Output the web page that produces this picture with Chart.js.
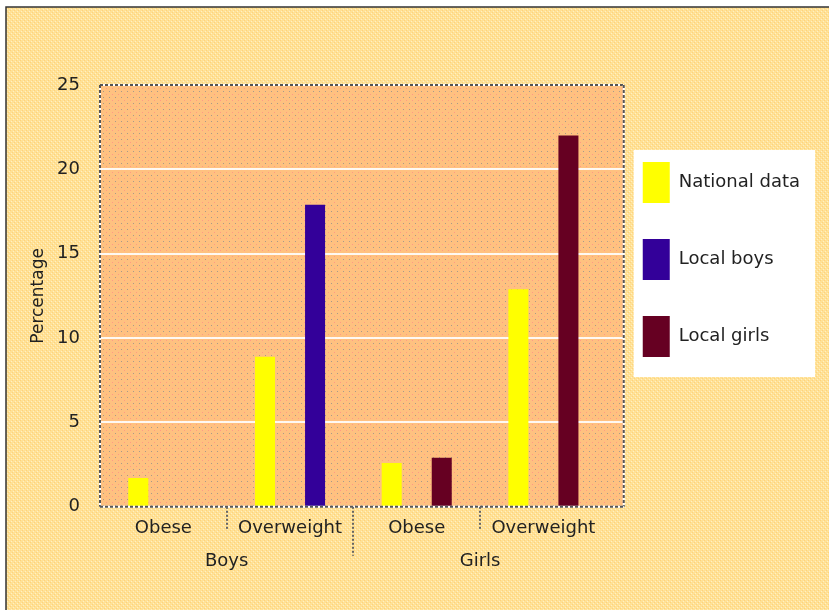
<!DOCTYPE html>
<html>
<head>
<meta charset="utf-8">
<script src="https://cdn.jsdelivr.net/npm/chart.js@4.4.0/dist/chart.umd.min.js"></script>
<style>
  html, body { margin: 0; padding: 0; background: #fff; }
  canvas { display: block; }
</style>
</head>
<body>
<canvas id="myChart" width="829" height="610"></canvas>
<script>
// データ
var categories = ['Obese', 'Overweight', 'Obese', 'Overweight'];
var groups = ['Boys', 'Girls'];
var seriesNames = ['National data', 'Local boys', 'Local girls'];
var nationalData = [1.7, 8.9, 2.6, 12.9];
var localBoys = [0, 17.9, null, null];
var localGirls = [null, null, 2.9, 22];
var yMin = 0, yMax = 25, yStep = 5;

var EXT = 17; // 枠が右に少しはみ出している分

// 背景の網点パターン
function makePattern(size, base, dots) {
  var c = document.createElement('canvas');
  c.width = size; c.height = size;
  var g = c.getContext('2d');
  g.fillStyle = base;
  g.fillRect(0, 0, size, size);
  dots.forEach(function(d) {
    g.fillStyle = d[2];
    g.fillRect(d[0], d[1], 1, 1);
  });
  return c;
}

var ctx = document.getElementById('myChart').getContext('2d');
var outerPat = ctx.createPattern(makePattern(4, '#ffe196', [[0, 0, '#ffd27a'], [2, 2, '#ffd27a'], [1, 3, '#fff0c4'], [3, 1, '#fff0c4']]), 'repeat');
var plotPat = ctx.createPattern(makePattern(6, '#ffc180', [[1, 1, '#a89a8a'], [4, 4, '#ff9a86']]), 'repeat');

function dashedLine(c, x1, y1, x2, y2) {
  c.save();
  c.lineWidth = 2;
  c.setLineDash([]);
  c.strokeStyle = '#ffffff';
  c.beginPath(); c.moveTo(x1, y1); c.lineTo(x2, y2); c.stroke();
  c.setLineDash([3, 2]);
  c.strokeStyle = '#555555';
  c.beginPath(); c.moveTo(x1, y1); c.lineTo(x2, y2); c.stroke();
  c.restore();
}

var backdrop = {
  id: 'backdrop',
  beforeDraw: function(chart) {
    var c = chart.ctx, a = chart.chartArea;
    c.save();
    c.fillStyle = '#ffffff';
    c.fillRect(0, 0, chart.width, chart.height);
    c.fillStyle = outerPat;
    c.fillRect(6, 7, chart.width - 6, chart.height - 7);
    c.strokeStyle = '#333333';
    c.lineWidth = 1.5;
    c.beginPath();
    c.moveTo(6, chart.height); c.lineTo(6, 7); c.lineTo(chart.width, 7);
    c.stroke();

    // プロット領域
    c.fillStyle = plotPat;
    c.fillRect(a.left, a.top, a.right - a.left + EXT, a.bottom - a.top);

    // 目盛線
    var y = chart.scales.y;
    c.strokeStyle = 'rgba(255,255,255,0.9)';
    c.lineWidth = 2;
    y.ticks.forEach(function(t) {
      if (t.value <= yMin || t.value >= yMax) return;
      var py = Math.round(y.getPixelForValue(t.value));
      c.beginPath(); c.moveTo(a.left, py); c.lineTo(a.right + EXT, py); c.stroke();
    });

    // 凡例の白い箱
    var hb = chart.legend.legendHitBoxes;
    if (hb && hb.length) {
      var l = Infinity, t = Infinity, r = -Infinity, b = -Infinity;
      hb.forEach(function(h) {
        l = Math.min(l, h.left); t = Math.min(t, h.top);
        r = Math.max(r, h.left + h.width); b = Math.max(b, h.top + h.height);
      });
      c.fillStyle = '#ffffff';
      c.fillRect(l - 9, t - 12, r - l + 24, b - t + 32);
    }
    c.restore();
  },
  afterDatasetsDraw: function(chart) {
    var c = chart.ctx, a = chart.chartArea;
    var r = a.right + EXT;
    dashedLine(c, a.left, a.top, r, a.top);
    dashedLine(c, a.left, a.top, a.left, a.bottom);
    dashedLine(c, r, a.top, r, a.bottom);
    dashedLine(c, a.left, a.bottom, r, a.bottom);

    // カテゴリの区切り
    var x = chart.scales.x;
    for (var i = 1; i < categories.length; i++) {
      var px = Math.round((x.getPixelForValue(i - 1) + x.getPixelForValue(i)) / 2);
      var len = (i === categories.length / 2) ? 49 : 24;
      c.save();
      c.lineWidth = 2;
      c.setLineDash([2, 2]);
      c.strokeStyle = '#666666';
      c.beginPath(); c.moveTo(px, a.bottom); c.lineTo(px, a.bottom + len); c.stroke();
      c.restore();
    }
  }
};

Chart.defaults.font.family = "'DejaVu Sans', sans-serif";
Chart.defaults.color = '#222222';

var chart = new Chart(ctx, {
  type: 'bar',
  data: {
    labels: categories,
    datasets: [{
      label: seriesNames[0],
      backgroundColor: '#ffff00',
      data: nationalData
    }, {
      label: seriesNames[1],
      backgroundColor: '#330099',
      data: localBoys
    }, {
      label: seriesNames[2],
      backgroundColor: '#660022',
      data: localGirls
    }]
  },
  options: {
    responsive: false,
    animation: false,
    skipNull: true,
    categoryPercentage: 0.79,
    barPercentage: 0.4,
    layout: { padding: { left: 24, top: 85, right: 28, bottom: 38 } },
    plugins: {
      tooltip: { enabled: false },
      legend: {
        position: 'right',
        align: 'start',
        title: { display: true, text: '', font: { size: 10, lineHeight: 1 }, padding: { top: 31, bottom: 0 } },
        labels: {
          boxWidth: 27,
          boxHeight: 41,
          padding: 36,
          font: { size: 18 },
          color: '#222222'
        }
      }
    },
    scales: {
      x: {
        offset: true,
        border: { display: false },
        grid: { display: false },
        ticks: { font: { size: 18 }, padding: 3, maxRotation: 0, autoSkip: false }
      },
      group: {
        type: 'category',
        position: 'bottom',
        labels: groups,
        offset: true,
        border: { display: false },
        grid: { display: false },
        ticks: { font: { size: 18 }, padding: 0, maxRotation: 0, autoSkip: false }
      },
      y: {
        min: yMin,
        max: yMax,
        border: { display: false },
        grid: { display: false },
        ticks: { stepSize: yStep, font: { size: 18 }, padding: 12 },
        title: { display: true, text: 'Percentage', font: { size: 17 } },
        afterFit: function(scale) { scale.width = 76; }
      }
    }
  },
  plugins: [backdrop]
});
</script>
</body>
</html>
